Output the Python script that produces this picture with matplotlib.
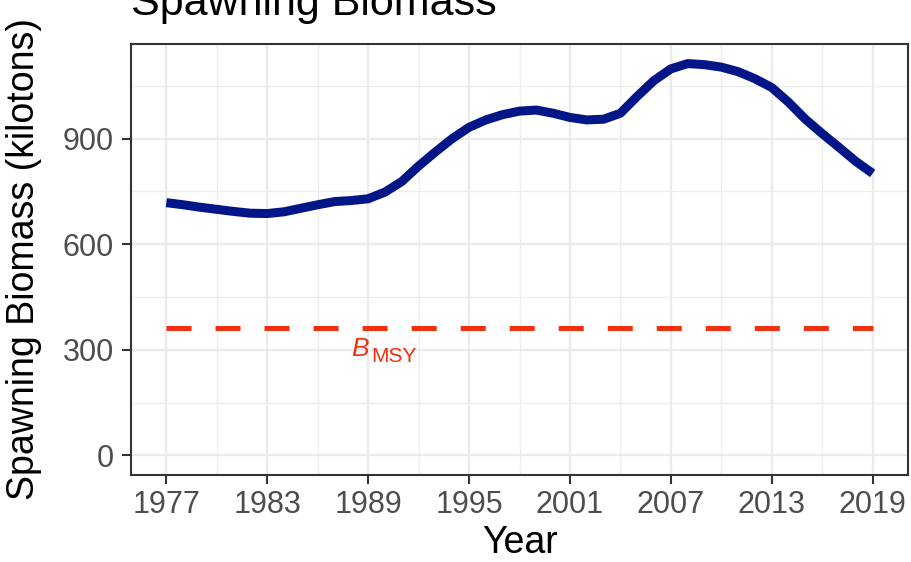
import matplotlib
matplotlib.use("Agg")
import matplotlib.pyplot as plt
from matplotlib.transforms import offset_copy
import numpy as np

# ---- data ----
years = list(range(1977, 2020))
biomass = [718, 712, 705, 699, 693, 688, 687, 692, 702, 712,
           721, 724, 729, 748, 778, 822, 862, 900, 932, 953,
           968, 978, 981, 972, 960, 953, 955, 972, 1020, 1065,
           1098, 1113, 1110, 1103, 1090, 1070, 1045, 1003, 955, 914,
           875, 835, 801]
bmsy = 361
x_ticks = [1977, 1983, 1989, 1995, 2001, 2007, 2013, 2019]
y_ticks = [0, 300, 600, 900]
title = "Spawning Biomass"
xlab = "Year"
ylab = "Spawning Biomass (kilotons)"
bmsy_label_x = 1988.0

plt.rcParams['font.family'] = ['Liberation Sans', 'DejaVu Sans']
plt.rcParams['lines.scale_dashes'] = False

DPI = 100
fig = plt.figure(figsize=(9.12, 5.62), dpi=DPI)
W, H = 912, 562
ax = fig.add_axes([131 / W, 1 - 475 / H, (908 - 131) / W, (475 - 44) / H])

# limits with ggplot-like 5% expansion
xr = max(years) - min(years)
ax.set_xlim(min(years) - 0.05 * xr, max(years) + 0.05 * xr)
ymax = max(biomass)
ax.set_ylim(-0.05 * ymax, ymax * 1.05)

# grid
major_grid = dict(color='#EBEBEB', lw=1.7, zorder=0)
minor_grid = dict(color='#EDEDED', lw=0.9, zorder=0)
for xv in x_ticks:
    ax.axvline(xv, **major_grid)
for a, b in zip(x_ticks[:-1], x_ticks[1:]):
    ax.axvline((a + b) / 2, **minor_grid)
for yv in y_ticks:
    ax.axhline(yv, **major_grid)
ystep = y_ticks[1] - y_ticks[0]
for yv in np.arange(y_ticks[0] + ystep / 2, ymax * 1.05, ystep):
    ax.axhline(yv, **minor_grid)

# biomass line
ax.plot(years, biomass, color='#031688', lw=6.5, solid_capstyle='butt',
        solid_joinstyle='round', zorder=3)

# BMSY reference line
ref, = ax.plot([min(years), max(years)], [bmsy, bmsy], color='#F0300F',
               lw=3.6, zorder=2, dash_capstyle='butt')
ref.set_dashes([18, 17.3])

# BMSY label
px = 72 / DPI
tB = offset_copy(ax.transData, fig=fig, x=0, y=-28 * px, units='points')
ax.text(bmsy_label_x, bmsy, "B", transform=tB, color='#F0300F',
        fontsize=19, fontstyle='italic', ha='left', va='baseline')
tS = offset_copy(ax.transData, fig=fig, x=20 * px, y=-34 * px, units='points')
ax.text(bmsy_label_x, bmsy, "MSY", transform=tS, color='#F0300F',
        fontsize=15, ha='left', va='baseline')

# ticks
ax.set_xticks(x_ticks)
ax.set_xticklabels([str(v) for v in x_ticks])
ax.set_yticks(y_ticks)
ax.set_yticklabels([str(v) for v in y_ticks])
ax.tick_params(axis='both', colors='#333333', labelcolor='#4D4D4D',
               labelsize=22, length=6.5, width=1.5)
ax.tick_params(axis='x', pad=4)
ax.tick_params(axis='y', pad=6)

for s in ax.spines.values():
    s.set_color('#333333')
    s.set_linewidth(1.5)
    s.set_zorder(5)

# axis titles
ax.set_xlabel(xlab, fontsize=27, color='black')
ax.xaxis.label.set_va('baseline')
ax.xaxis.set_label_coords(0.5, (475 - 553) / 431)
ax.set_ylabel(ylab, fontsize=27, color='black')
ax.yaxis.set_label_coords((42 - 131) / 777, 0.5)

# title (partly cut off at the top like the reference)
fig.text(131 / W, 1 - 15 / H, title, fontsize=31, color='black',
         ha='left', va='baseline')

fig.savefig("out.png", dpi=DPI)
